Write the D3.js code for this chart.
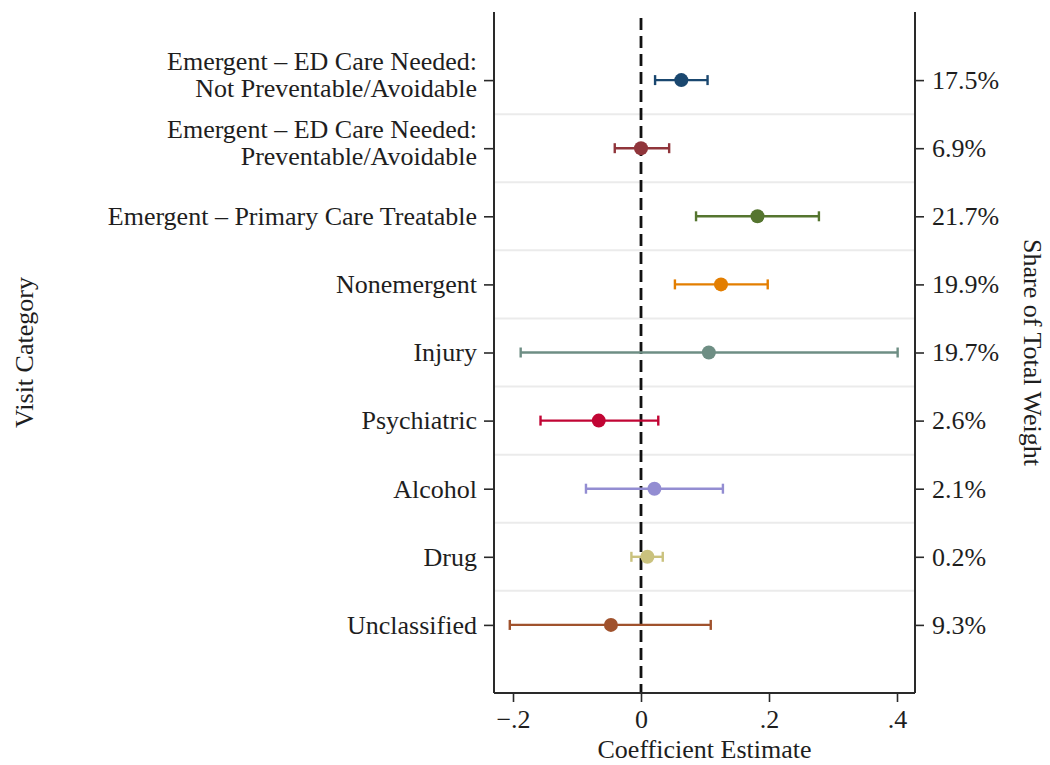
<!DOCTYPE html>
<html>
<head>
<meta charset="utf-8">
<script src="https://cdn.jsdelivr.net/npm/d3@7"></script>
<style>
  html, body { margin: 0; padding: 0; background: #fff; }
  svg { display: block; font-family: "Liberation Serif", "Times New Roman", serif; }
</style>
</head>
<body>
<svg id="chart" width="1050" height="765"></svg>
<script>
// Visit categories (top to bottom); "\n" splits a label over two lines
const categories = [
  "Emergent \u2013 ED Care Needed:\nNot Preventable/Avoidable",
  "Emergent \u2013 ED Care Needed:\nPreventable/Avoidable",
  "Emergent \u2013 Primary Care Treatable",
  "Nonemergent",
  "Injury",
  "Psychiatric",
  "Alcohol",
  "Drug",
  "Unclassified"
];
// Point estimates and 95% confidence bounds
const estimates = [0.063, 0.000, 0.182, 0.125, 0.106, -0.066, 0.021, 0.010, -0.047];
const ciLower   = [0.022, -0.041, 0.086, 0.053, -0.188, -0.157, -0.086, -0.015, -0.205];
const ciUpper   = [0.104, 0.044, 0.278, 0.198, 0.401, 0.027, 0.128, 0.034, 0.109];
// Share of total weight per category (right-hand axis labels)
const weightShares = ["17.5%", "6.9%", "21.7%", "19.9%", "19.7%", "2.6%", "2.1%", "0.2%", "9.3%"];
// Marker colours per category
const colors = ["#1a476f", "#90353b", "#55752f", "#e37e00", "#6e8e84", "#c10534", "#938dd2", "#cac27e", "#a0522d"];
// X-axis ticks and labels
const xTicks = [-0.2, 0, 0.2, 0.4];
const xTickLabels = ["\u2212.2", "0", ".2", ".4"];

const rows = categories.map((c, i) => ({
  cat: c, pos: i + 1, est: estimates[i], lo: ciLower[i], hi: ciUpper[i],
  share: weightShares[i], color: colors[i]
}));

const svg = d3.select("#chart");
const plotLeft = 494, plotRight = 915, plotTop = 12, plotBottom = 693;
const fontSize = 26;
const ink = "#1e1e1e";

const x = d3.scaleLinear().domain([-0.2, 0.4]).range([513, 897]);
const y = d3.scaleLinear().domain([0, 10]).range([plotTop, plotBottom]);

// Light separators between categories
svg.append("g").selectAll("line")
  .data(d3.range(1.5, 9, 1))
  .join("line")
  .attr("x1", plotLeft).attr("x2", plotRight)
  .attr("y1", d => y(d)).attr("y2", d => y(d))
  .attr("stroke", "#ebebeb").attr("stroke-width", 2);

// Reference line at zero
svg.append("line")
  .attr("x1", x(0)).attr("x2", x(0))
  .attr("y1", plotTop).attr("y2", plotBottom)
  .attr("stroke", "#111").attr("stroke-width", 2.8)
  .attr("stroke-dasharray", "12,6").attr("stroke-dashoffset", -6);

// Confidence intervals
const bars = svg.append("g").selectAll("g").data(rows).join("g")
  .attr("stroke", d => d.color).attr("stroke-width", 2.4);
bars.append("line")
  .attr("x1", d => x(d.lo)).attr("x2", d => x(d.hi))
  .attr("y1", d => y(d.pos)).attr("y2", d => y(d.pos));
bars.append("line")
  .attr("x1", d => x(d.lo)).attr("x2", d => x(d.lo))
  .attr("y1", d => y(d.pos) - 5).attr("y2", d => y(d.pos) + 5);
bars.append("line")
  .attr("x1", d => x(d.hi)).attr("x2", d => x(d.hi))
  .attr("y1", d => y(d.pos) - 5).attr("y2", d => y(d.pos) + 5);

// Point estimates
svg.append("g").selectAll("circle").data(rows).join("circle")
  .attr("cx", d => x(d.est)).attr("cy", d => y(d.pos))
  .attr("r", 7).attr("fill", d => d.color);

// Bottom axis
const xAxis = svg.append("g")
  .attr("transform", `translate(0,${plotBottom})`)
  .call(d3.axisBottom(x).tickValues(xTicks)
    .tickFormat((d, i) => xTickLabels[i]).tickSize(9).tickPadding(8));
xAxis.select(".domain").attr("d", `M${plotLeft},0H${plotRight}`);

// Left axis with category labels
const yLeft = svg.append("g")
  .attr("transform", `translate(${plotLeft},0)`)
  .call(d3.axisLeft(y).tickValues(rows.map(r => r.pos))
    .tickFormat((d, i) => categories[i]).tickSize(10).tickPadding(7));
yLeft.select(".domain").attr("d", `M0,${plotTop}V${plotBottom}`);

// Right axis with weight shares
const yRight = svg.append("g")
  .attr("transform", `translate(${plotRight},0)`)
  .call(d3.axisRight(y).tickValues(rows.map(r => r.pos))
    .tickFormat((d, i) => weightShares[i]).tickSize(9).tickPadding(8));
yRight.select(".domain").attr("d", `M0,${plotTop}V${plotBottom}`);

svg.selectAll(".domain").attr("stroke", "#2a2a2a").attr("stroke-width", 2);
svg.selectAll(".tick line").attr("stroke", "#2a2a2a").attr("stroke-width", 1.6);
svg.selectAll(".tick text")
  .attr("font-family", "'Liberation Serif', 'Times New Roman', serif")
  .attr("font-size", fontSize).attr("fill", ink);

// Split two-line category labels into tspans
yLeft.selectAll(".tick text").each(function(d, i) {
  const lines = categories[i].split("\n");
  if (lines.length < 2) return;
  const t = d3.select(this);
  const xPos = t.attr("x");
  t.text(null).attr("dy", null);
  lines.forEach((ln, k) => {
    t.append("tspan").attr("x", xPos)
      .attr("dy", k === 0 ? "-0.4em" : "1.04em")
      .text(ln);
  });
});

// Axis titles
svg.append("text")
  .attr("x", (plotLeft + plotRight) / 2).attr("y", 758)
  .attr("text-anchor", "middle")
  .attr("font-size", fontSize).attr("fill", ink)
  .text("Coefficient Estimate");

svg.append("text")
  .attr("transform", `translate(33,${(plotTop + plotBottom) / 2}) rotate(-90)`)
  .attr("text-anchor", "middle")
  .attr("font-size", fontSize).attr("fill", ink)
  .text("Visit Category");

svg.append("text")
  .attr("transform", `translate(1024,${(plotTop + plotBottom) / 2}) rotate(90)`)
  .attr("text-anchor", "middle")
  .attr("font-size", fontSize).attr("fill", ink)
  .text("Share of Total Weight");
</script>
</body>
</html>
